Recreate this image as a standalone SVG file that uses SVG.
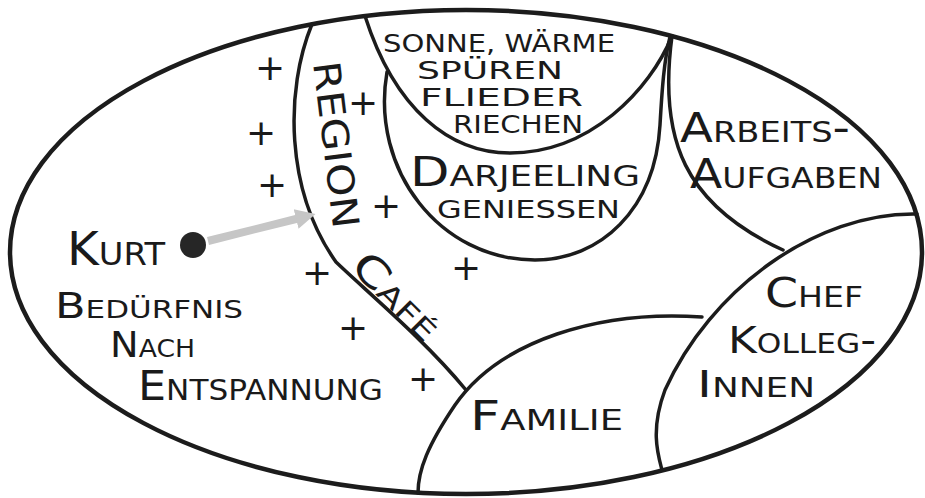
<svg xmlns="http://www.w3.org/2000/svg" width="925" height="498" viewBox="0 0 925 498">
<style>
.ln{fill:none;stroke:#1c1c1c;stroke-width:3.5;stroke-linecap:round;stroke-linejoin:round}
.outer{fill:#ffffff;stroke:#1c1c1c;stroke-width:4.5}
.t{font-family:"DejaVu Sans","Liberation Sans",sans-serif;font-variant:small-caps;fill:#1a1a1a}
.u{font-family:"DejaVu Sans","Liberation Sans",sans-serif;font-size:25px;fill:#1a1a1a}
.p{font-family:"DejaVu Sans","Liberation Sans",sans-serif;font-size:36px;fill:#1a1a1a;text-anchor:middle}
</style>
<defs>
<marker id="ah" markerUnits="userSpaceOnUse" markerWidth="24" markerHeight="24" refX="4" refY="12" orient="auto">
<path d="M0,2 L20,12 L0,22 Z" fill="#c6c6c6"/>
</marker>
</defs>
<rect width="925" height="498" fill="#ffffff"/>
<g id="life-space">
<ellipse class="outer" cx="466" cy="252" rx="456" ry="242"/>
</g>
<g id="boundaries">
<path id="cafe-boundary" class="ln" d="M312,24 C285,90 285,190 336,262 C365,290 425,340 466,390"/>
<path id="sonne-boundary" class="ln" d="M365,16 C395,110 450,153 510,153 C590,153 650,90 672,36"/>
<path id="darjeeling-boundary" class="ln" d="M387,72 C370,170 440,260 535,260 C600,260 655,210 660,125 C662,90 664,60 670,37"/>
<path id="arbeit-boundary" class="ln" d="M672,36 C658,140 685,205 783,250"/>
<path id="chef-boundary" class="ln" d="M917,214 C815,212 710,290 665,390 C650,430 658,455 662,470"/>
<path id="familie-boundary" class="ln" d="M702,317 C600,310 500,340 455,405 C428,445 418,470 418,493"/>
</g>
<g id="kurt">
<circle cx="193" cy="245" r="13" fill="#262626"/>
<text class="t" x="67" y="265" font-size="46" textLength="98" lengthAdjust="spacingAndGlyphs">Kurt</text>
</g>
<g id="beduerfnis">
<text class="t" x="55" y="318" font-size="36" textLength="188" lengthAdjust="spacingAndGlyphs">Bedürfnis</text>
<text class="t" x="110" y="357" font-size="36" textLength="85" lengthAdjust="spacingAndGlyphs">Nach</text>
<text class="t" x="138" y="400" font-size="40" textLength="245" lengthAdjust="spacingAndGlyphs">Entspannung</text>
</g>
<g id="region-cafe">
<text class="t" font-size="37" transform="translate(313,63) rotate(83)" textLength="168" lengthAdjust="spacingAndGlyphs" style="font-variant:normal">REGION</text>
<text class="t" font-size="40" transform="translate(349,268) rotate(45)" textLength="107" lengthAdjust="spacingAndGlyphs">Café</text>
</g>
<g id="sonne">
<text class="u" x="383" y="52" textLength="232" lengthAdjust="spacingAndGlyphs">SONNE, WÄRME</text>
<text class="u" x="417" y="79" textLength="146" lengthAdjust="spacingAndGlyphs">SPÜREN</text>
<text class="u" x="420" y="106" textLength="163" lengthAdjust="spacingAndGlyphs">FLIEDER</text>
<text class="u" x="453" y="133" textLength="130" lengthAdjust="spacingAndGlyphs">RIECHEN</text>
</g>
<g id="darjeeling">
<text class="t" x="410" y="186" font-size="40" textLength="230" lengthAdjust="spacingAndGlyphs">Darjeeling</text>
<text class="u" x="437" y="218" textLength="183" lengthAdjust="spacingAndGlyphs">GENIESSEN</text>
</g>
<g id="arbeit">
<text class="t" x="680" y="142" font-size="40" textLength="170" lengthAdjust="spacingAndGlyphs">Arbeits-</text>
<text class="t" x="690" y="188" font-size="40" textLength="192" lengthAdjust="spacingAndGlyphs">Aufgaben</text>
</g>
<g id="chef">
<text class="t" x="765" y="307" font-size="40" textLength="98" lengthAdjust="spacingAndGlyphs">Chef</text>
<text class="t" x="728" y="353" font-size="38" textLength="148" lengthAdjust="spacingAndGlyphs">Kolleg-</text>
<text class="t" x="697" y="397" font-size="38" textLength="118" lengthAdjust="spacingAndGlyphs">Innen</text>
</g>
<g id="familie">
<text class="t" x="470" y="430" font-size="40" textLength="153" lengthAdjust="spacingAndGlyphs">Familie</text>
</g>
<g id="plus-signs">
<text class="p" x="270" y="80">+</text>
<text class="p" x="261" y="145">+</text>
<text class="p" x="272" y="197">+</text>
<text class="p" x="363" y="115">+</text>
<text class="p" x="386" y="218">+</text>
<text class="p" x="317" y="285">+</text>
<text class="p" x="466" y="280">+</text>
<text class="p" x="353" y="340">+</text>
<text class="p" x="423" y="391">+</text>
</g>
<g id="connectors">
<line x1="208" y1="241" x2="300" y2="218" stroke="#c6c6c6" stroke-width="8" marker-end="url(#ah)"/>
</g>
</svg>
